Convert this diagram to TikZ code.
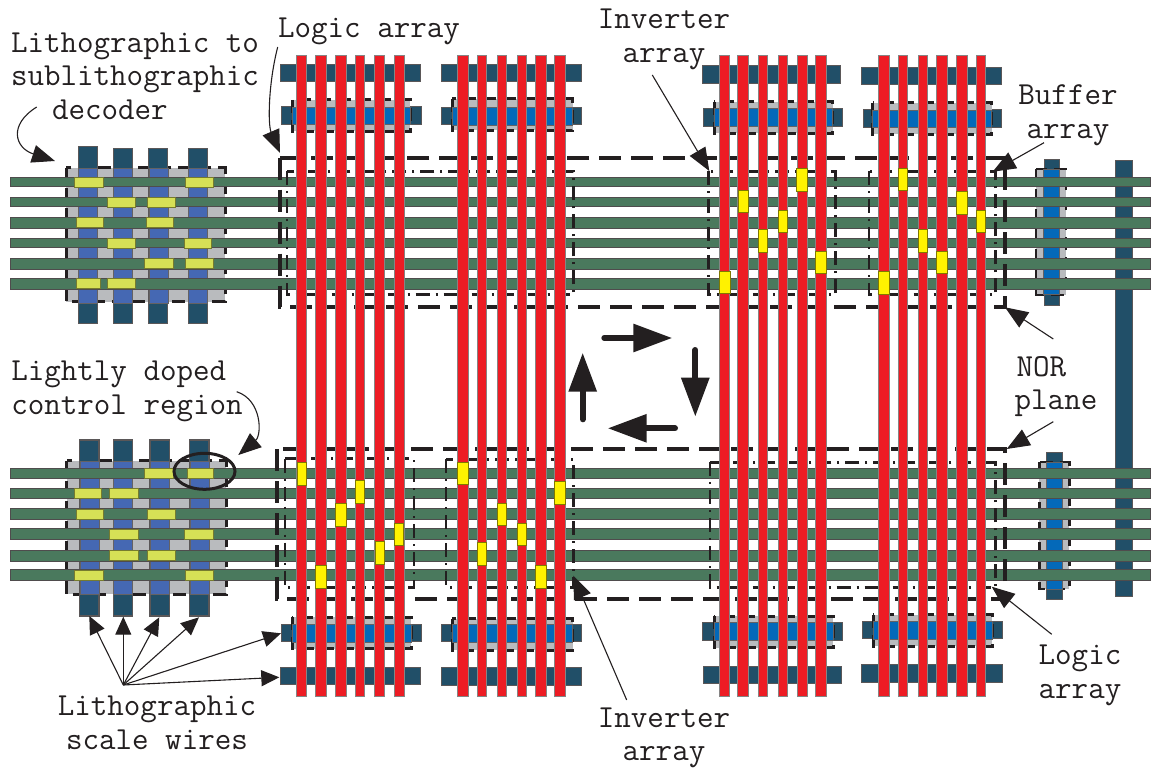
\documentclass[tikz,border=0pt]{standalone}
\usepackage{xcolor}
\usetikzlibrary{arrows.meta, positioning, shapes.geometric}
\definecolor{inkc}{HTML}{231F20}
\definecolor{greenw}{HTML}{4A795D}
\definecolor{darkw}{HTML}{214F68}
\definecolor{bluew}{HTML}{4568B3}
\definecolor{brightw}{HTML}{0469B9}
\definecolor{redw}{HTML}{ED1C24}
\definecolor{yellowc}{HTML}{FFF200}
\definecolor{palec}{HTML}{D6E056}
\definecolor{greyc}{HTML}{B9BBBE}

\begin{document}
\begin{tikzpicture}[x=1pt, y=-1pt,
    litwire/.style={draw=inkc!75, line width=1pt, fill=darkw},
    fieldbox/.style={fill=greyc, draw=inkc, line width=3pt, dash pattern=on 13pt off 7pt},
    bluewire/.style={fill=brightw, draw=inkc!70, line width=0.5pt},
    decwire/.style={fill=bluew, draw=inkc!70, line width=0.5pt},
    greenwire/.style={draw=inkc!80, line width=0.9pt, fill=greenw},
    redwire/.style={draw=inkc!55, line width=0.7pt, fill=redw},
    gatecell/.style={draw=black!50!yellowc, line width=0.8pt, fill=yellowc},
    palecell/.style={draw=black!45!palec, line width=0.8pt, fill=palec},
    norbox/.style={draw=inkc, line width=4pt, dash pattern=on 22pt off 10pt},
    arraybox/.style={draw=inkc, line width=2.6pt, dash pattern=on 14pt off 6pt on 2pt off 6pt},
    thinlead/.style={draw=inkc, line width=1.1pt, -{Triangle[length=23pt,width=18pt]}},
    scalelead/.style={draw=inkc, line width=1.1pt, -{Triangle[length=18pt,width=16pt]}},
    flowarrow/.style={draw=inkc, line width=6pt, line cap=round, -{Triangle[length=39pt,width=27pt]}},
    lbl/.style={font=\fontsize{32.1}{33.6}\selectfont\ttfamily, text=inkc, inner sep=0pt}]

    \useasboundingbox (0,0) rectangle (1154,770);

    % wires that run under everything
    \draw [litwire] (1115.7,160.7) rectangle (1132.7,596);

    % long lithographic bars above and below the arrays
    \foreach \xa/\xb/\ya/\yb in {280/420/64.5/81.5, 441.7/581/64.3/81.7, 702.7/840.7/66/83.3, 861.7/1001/67.3/84.7,
        280/420/667.3/684.7, 441.7/581.7/667.3/685, 703/841/666/683, 861.7/1002/664.3/682}
        \draw [litwire] (\xa,\ya) rectangle (\xb,\yb);

    % short bars with their lightly doped field
    \foreach \xa/\xb/\ya/\gxa/\gxb/\gya in {281/421/107/292/410/100, 441.7/581/107.3/452/572.7/99,
        703/842.7/108.7/714/832.7/102, 863.3/1001/110/872.7/991.7/103,
        281.3/421/624.3/292/411/617.3, 441.7/581.7/624.3/452/572.7/618.7,
        702.3/842.7/622.7/714/833/616, 862.7/1002/621.3/873/992/614.7} {
        \draw [litwire] (\xa,\ya) rectangle (\xb,\ya+17.6);
        \draw [fieldbox] (\gxa,\gya) rectangle (\gxb,\gya+31.5);
        \draw [bluewire] (\gxa,\ya) rectangle (\gxb,\ya+17.6);
    }

    % decoders on the left
    \draw [fieldbox] (66,168) rectangle (225,301.7);
    \draw [fieldbox] (66.7,460.7) rectangle (226,594);
    \foreach \x/\ya in {87.7/147, 123/148.3, 158.3/148.3, 197.7/148.3} {
        \draw [litwire] (\x-9.5,\ya) rectangle (\x+9.5,323);
        \draw [decwire] (\x-9.5,168) rectangle (\x+9.5,303);
    }
    \foreach \x in {89.3, 123, 159.7, 199.3} {
        \draw [litwire, line width=1.5pt] (\x-9.7,440) rectangle (\x+9.7,616);
        \draw [decwire] (\x-9.5,461) rectangle (\x+9.5,594);
    }

    % buffers on the right
    \draw [litwire] (1044,159.3) rectangle (1059,305.7);
    \draw [fieldbox, line width=2.4pt] (1036,169.3) rectangle (1066,294.7);
    \draw [bluewire] (1043.5,169.3) rectangle (1059.5,294.7);
    \draw [litwire] (1046.3,452.3) rectangle (1062,599);
    \draw [fieldbox, line width=2.4pt] (1039.3,462) rectangle (1069.3,589);
    \draw [bluewire] (1046.3,462) rectangle (1062,589);

    % nanowires across
    \foreach \y/\h in {182/9.8, 202/9.8, 222.6/11, 243/9.8, 263.6/11, 283.7/11,
        473.7/9.8, 493.7/9.8, 514.3/11, 534/11, 555.7/11, 575.3/11}
        \draw [greenwire] (10,\y-\h/2) rectangle (1150,\y+\h/2);

    % doped cells of the decoders
    \foreach \xa/\xb/\y in {74.3/103.3/182, 185.7/213/182, 107.7/135.3/202, 147.3/175/202,
        76/103.3/222.6, 146/173.3/222.6, 107.7/135.3/243, 184.3/211.7/243,
        144.3/173.3/263.6, 185.7/213.3/263.6, 76/100/283.7, 107.7/135.3/283.7,
        144.3/173.3/473.7, 187.7/213/473.7, 74.3/101.7/493.7, 109.7/138.3/493.7,
        76/103.3/514.3, 147.7/175/514.3, 109.7/138.3/534, 184.3/213/534,
        109.7/138.3/555.7, 147.7/175/555.7, 74.3/103.3/575.3, 185.7/213/575.3}
        \draw [palecell] (\xa,\y-5) rectangle (\xb,\y+5);

    % NOR planes and array outlines
    \draw [norbox] (280,157.7) rectangle (1005,307.3);
    \draw [norbox] (276.7,449.3) rectangle (1005,599);
    \draw [arraybox] (287,171.3) rectangle (573.3,294.7);
    \draw [arraybox] (708.3,171.3) rectangle (835.3,294.7);
    \draw [arraybox] (869,171.3) rectangle (995.3,294.7);
    \draw [arraybox] (285,458.7) rectangle (414,587.7);
    \draw [arraybox] (446,459.3) rectangle (573.3,587.3);
    \draw [arraybox] (710,462.3) rectangle (995.3,587.7);

    % nanowires along
    \foreach \x/\w in {301.7/10, 320.7/11, 340.7/11, 359.7/9.5, 379.7/10, 399/10,
        462.7/11, 481.7/9.5, 501.7/9.5, 521.7/9.5, 540.7/11, 560.3/11,
        724.7/10, 743.3/11, 762.7/9.5, 782.7/9.5, 802.3/9.5, 821.3/11,
        884/11, 903/9.5, 923/9.5, 942.3/11, 962/11, 981/9.5}
        \draw [redwire] (\x-\w/2,55) rectangle (\x+\w/2,696.7);

    % doped cells of the arrays
    \foreach \x/\y/\w in {724.7/271/11, 743.3/190.3/9.5, 762.7/229.7/9.5, 782.7/210/9.5, 802.3/168.7/11, 821.3/251/11,
        884/271.3/11, 903/168.3/9.5, 923/229.7/9.5, 942.3/251/11, 962/191.7/11, 981/210/9.5,
        301.7/462.3/9.5, 320.7/565.7/11, 340.7/503.3/11, 359.7/480.3/9.5, 379.7/541.3/9.5, 399/523/9.5,
        462.7/462/11, 481.7/542.7/9.5, 501.7/503/9.5, 521.7/523/9.5, 540.7/565.7/11, 560.3/481.7/11}
        \draw [gatecell] (\x-\w/2,\y) rectangle (\x+\w/2,\y+22.6);

    % direction of evaluation
    \coordinate (flowrighta) at (604.3,338);
    \coordinate (flowrightb) at (672.3,338);
    \coordinate (flowdowna) at (695.3,350);
    \coordinate (flowdownb) at (695.3,416.7);
    \coordinate (flowlefta) at (675,428.3);
    \coordinate (flowleftb) at (607.7,428.3);
    \coordinate (flowupa) at (582.7,419.3);
    \coordinate (flowupb) at (582.7,352.7);
    \draw [flowarrow] (flowrighta) -- (flowrightb);
    \draw [flowarrow] (flowdowna) -- (flowdownb);
    \draw [flowarrow] (flowlefta) -- (flowleftb);
    \draw [flowarrow] (flowupa) -- (flowupb);

    % labels
    \node [lbl, align=left] (decoderlbl) at (135,76) {Lithographic to\\sublithographic\\\hspace*{41pt}decoder};
    \node [lbl] (logictoplbl) at (369,31) {Logic array};
    \node [lbl, align=center] (invtoplbl) at (664,39.5) {Inverter\\array};
    \node [lbl, align=center] (bufferlbl) at (1068,115) {Buffer\\array};
    \node [lbl, align=left] (norlbl) at (1056,386.5) {\hspace*{2pt}NOR\\plane};
    \node [lbl, align=center] (logicbotlbl) at (1080,675.5) {Logic\\array};
    \node [lbl, align=center] (invbotlbl) at (664,738) {Inverter\\array};
    \node [lbl, align=left] (dopedlbl) at (127,391.5) {Lightly doped\\control region};
    \node [lbl, align=center] (scalelbl) at (157,723) {Lithographic\\scale wires};

    % leaders
    \coordinate (decodera) at (36.7,107);
    \coordinate (decoderb) at (55,161);
    \coordinate (logictopa) at (277.7,47);
    \coordinate (logictopb) at (280,153);
    \coordinate (invtopa) at (652.3,75);
    \coordinate (invtopb) at (709.3,171);
    \coordinate (buffera) at (1044,142.7);
    \coordinate (bufferb) at (992.7,171.7);
    \coordinate (nortopa) at (1053.3,339);
    \coordinate (nortopb) at (1005,307.3);
    \coordinate (norbota) at (1053.3,421.7);
    \coordinate (norbotb) at (1006.7,449);
    \coordinate (logicbota) at (1051.7,634.3);
    \coordinate (logicbotb) at (991.7,586.7);
    \coordinate (invbota) at (626.7,700);
    \coordinate (invbotb) at (573.3,575.7);
    \coordinate (dopeda) at (236.7,391.7);
    \coordinate (dopedb) at (238.3,455);
    \node [draw=inkc, line width=3pt, ellipse, inner sep=0pt, minimum width=61pt, minimum height=36pt] (dopedring) at (204.5,471.3) {};

    \draw [thinlead] (decodera) .. controls (8,125) and (15,148) .. (decoderb);
    \draw [thinlead] (logictopa) .. controls (268,85) and (268,125) .. (logictopb);
    \draw [thinlead] (invtopa) -- (invtopb);
    \draw [thinlead] (buffera) -- (bufferb);
    \draw [thinlead] (nortopa) -- (nortopb);
    \draw [thinlead] (norbota) -- (norbotb);
    \draw [thinlead] (logicbota) -- (logicbotb);
    \draw [thinlead] (invbota) -- (invbotb);
    \draw [thinlead] (dopeda) .. controls (262,400) and (262,435) .. (dopedb);

    \coordinate (scaleapex) at (123.3,685);
    \coordinate (scalea) at (89.3,616);
    \coordinate (scaleb) at (123.3,616.7);
    \coordinate (scalec) at (159.3,617.3);
    \coordinate (scaled) at (199,617.3);
    \coordinate (scalee) at (281,633.3);
    \coordinate (scalef) at (279.3,677.3);
    \draw [scalelead] (scaleapex) -- (scalea);
    \draw [scalelead] (scaleapex) -- (scaleb);
    \draw [scalelead] (scaleapex) -- (scalec);
    \draw [scalelead] (scaleapex) -- (scaled);
    \draw [scalelead] (scaleapex) -- (scalee);
    \draw [scalelead] (scaleapex) -- (scalef);
\end{tikzpicture}
\end{document}
